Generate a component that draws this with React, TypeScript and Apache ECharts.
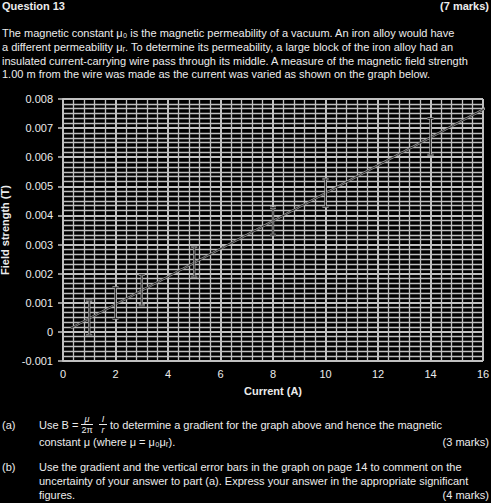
import React, { useEffect, useRef } from "react";
import * as echarts from "echarts";

const currents = [1, 2, 3, 5, 8, 10, 14];
const fieldLow = [-0.00011, 0.00046, 0.00092, 0.00189, 0.00333, 0.0043, 0.00608];
const fieldHigh = [0.00107, 0.00153, 0.00196, 0.00292, 0.00427, 0.00525, 0.00733];
const fitCurrent = [0.3, 16.2];
const fitField = [0.00013, 0.00773];

const FONT = '"Liberation Sans", Arial, sans-serif';
const TXT = "#ececec";

function txt(text: string, x: number, y: number, opts: any = {}) {
  const align = opts.align || "left";
  return {
    type: "text",
    x,
    y,
    silent: true,
    style: {
      text,
      font: `${opts.bold ? "bold " : ""}${opts.italic ? "italic " : ""}${opts.size || 11}px ${FONT}`,
      fill: TXT,
      textAlign: align,
      align,
      textVerticalAlign: "middle",
      verticalAlign: "middle",
    },
  };
}

export default function App() {
  const ref = useRef<HTMLDivElement>(null);
  useEffect(() => {
    if (!ref.current) return;
    const chart = echarts.init(ref.current, null, { renderer: "svg" });
    const errData = currents.map((c, i) => [c, fieldLow[i], fieldHigh[i]]);
    const fitData = fitCurrent.map((c, i) => [c, fitField[i]]);
    const gridColor = "#c0c0c0";
    const fmtY = (v: number) => (Math.abs(v) < 1e-12 ? "0" : String(+v.toFixed(3)));

    chart.setOption({
      animation: false,
      backgroundColor: "#000",
      textStyle: { fontFamily: FONT },
      grid: { left: 63, right: 8, top: 99, bottom: 142, containLabel: false, outerBoundsMode: "none" },
      xAxis: {
        type: "value",
        min: 0,
        max: 16,
        interval: 2,
        name: "Current (A)",
        nameLocation: "middle",
        nameGap: 24,
        nameTextStyle: { color: TXT, fontSize: 11, fontWeight: "bold", fontFamily: FONT },
        axisLine: { show: true, lineStyle: { color: gridColor, width: 2 } },
        axisTick: { show: true, length: 5, lineStyle: { color: gridColor, width: 1.5 } },
        axisLabel: { color: TXT, fontSize: 11, margin: 7, fontFamily: FONT },
        splitLine: { show: true, lineStyle: { color: gridColor, width: 2 } },
        minorTick: { show: false, splitNumber: 5 },
        minorSplitLine: { show: true, lineStyle: { color: gridColor, width: 1.3 } },
      },
      yAxis: {
        type: "value",
        min: -0.001,
        max: 0.008,
        interval: 0.001,
        name: "Field strength (T)",
        nameLocation: "middle",
        nameGap: 50,
        nameTextStyle: { color: TXT, fontSize: 11, fontWeight: "bold", fontFamily: FONT },
        axisLine: { show: true, lineStyle: { color: gridColor, width: 2 } },
        axisTick: { show: true, length: 5, lineStyle: { color: gridColor, width: 1.5 } },
        axisLabel: { color: TXT, fontSize: 11, margin: 10, fontFamily: FONT, formatter: fmtY },
        splitLine: { show: true, lineStyle: { color: gridColor, width: 2 } },
        minorTick: { show: false, splitNumber: 6 },
        minorSplitLine: { show: true, lineStyle: { color: gridColor, width: 1.3 } },
      },
      series: [
        {
          type: "line",
          data: fitData,
          clip: false,
          symbol: "none",
          lineStyle: { color: "#9a9a9a", width: 2.2 },
          z: 3,
        },
        {
          type: "line",
          data: fitData,
          clip: false,
          symbol: "none",
          lineStyle: { color: "#2e2e2e", width: 1 },
          z: 4,
        },
        {
          type: "custom",
          data: errData,
          z: 5,
          renderItem: (params: any, api: any) => {
            const x = api.value(0);
            const lo = api.coord([x, api.value(1)]);
            const hi = api.coord([x, api.value(2)]);
            const cap = 3;
            const mk = (stroke: string, w: number) => [
              { type: "line", shape: { x1: lo[0], y1: lo[1], x2: hi[0], y2: hi[1] }, style: { stroke, lineWidth: w } },
              { type: "line", shape: { x1: lo[0] - cap, y1: lo[1], x2: lo[0] + cap, y2: lo[1] }, style: { stroke, lineWidth: w } },
              { type: "line", shape: { x1: hi[0] - cap, y1: hi[1], x2: hi[0] + cap, y2: hi[1] }, style: { stroke, lineWidth: w } },
            ];
            return { type: "group", children: [...mk("#a8a8a8", 2.4), ...mk("#303030", 1)] };
          },
        },
      ],
      graphic: [
        txt("Question 13", 2, 6, { bold: true }),
        txt("(7 marks)", 489, 6, { bold: true, align: "right" }),
        txt("The magnetic constant μ₀ is the magnetic permeability of a vacuum. An iron alloy would have", 2, 33),
        txt("a different permeability μᵣ. To determine its permeability, a large block of the iron alloy had an", 2, 47),
        txt("insulated current-carrying wire pass through its middle. A measure of the magnetic field strength", 2, 61),
        txt("1.00 m from the wire was made as the current was varied as shown on the graph below.", 2, 74),
        txt("(a)", 2, 425),
        txt("Use B =", 39, 425),
        txt("μ", 87, 419, { italic: true, size: 9, align: "center" }),
        { type: "line", shape: { x1: 81, y1: 424.5, x2: 93, y2: 424.5 }, style: { stroke: TXT, lineWidth: 1 } },
        txt("2π", 87, 430, { size: 9, align: "center" }),
        txt("I", 103, 419, { italic: true, size: 9, align: "center" }),
        { type: "line", shape: { x1: 99, y1: 424.5, x2: 107, y2: 424.5 }, style: { stroke: TXT, lineWidth: 1 } },
        txt("r", 103, 430, { italic: true, size: 9, align: "center" }),
        txt("to determine a gradient for the graph above and hence the magnetic", 110, 425),
        txt("constant μ (where μ = μ₀μᵣ).", 39, 442),
        txt("(3 marks)", 489, 442, { align: "right" }),
        txt("(b)", 2, 467),
        txt("Use the gradient and the vertical error bars in the graph on page 14 to comment on the", 39, 467),
        txt("uncertainty of your answer to part (a). Express your answer in the appropriate significant", 39, 481),
        txt("figures.", 39, 495),
        txt("(4 marks)", 489, 495, { align: "right" }),
      ],
    });
    return () => chart.dispose();
  }, []);
  return (
    <div
      ref={ref}
      style={{ position: "absolute", left: 0, top: 0, width: 491, height: 503, background: "#000" }}
    />
  );
}
